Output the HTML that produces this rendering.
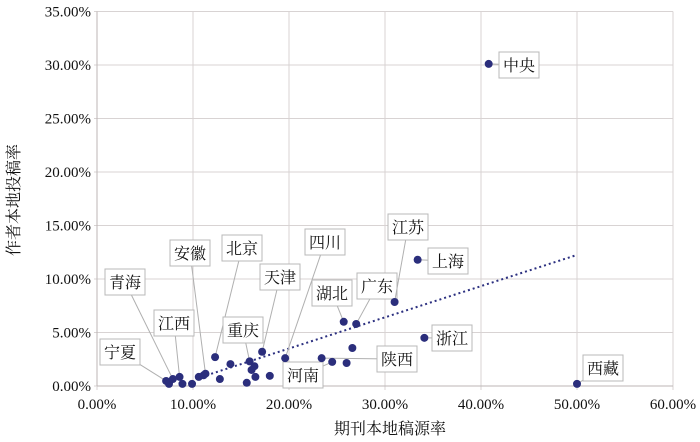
<!DOCTYPE html>
<html><head><meta charset="utf-8">
<style>
body{margin:0;background:#fff;}
svg{display:block;font-family:"Liberation Serif","Noto Serif CJK SC",serif;}
</style></head>
<body>
<svg id="chart" width="700" height="442" viewBox="0 0 700 442" xmlns="http://www.w3.org/2000/svg">
<g id="grid"></g>
<g id="axes"></g>
<g id="trend"></g>
<g id="callouts"></g>
<g id="points"></g>
<text x="390" y="434" text-anchor="middle" font-size="16" fill="#111">期刊本地稿源率</text>
<text transform="translate(19,200) rotate(-90)" text-anchor="middle" font-size="16" fill="#111">作者本地投稿率</text>
</svg>
<script>
const xTicks=[0,10,20,30,40,50,60];
const yTicks=[0,5,10,15,20,25,30,35];
const xValues=[7.2,7.5,7.9,8.6,8.9,9.9,10.6,11.1,11.3,12.3,12.8,13.9,15.6,15.9,16.4,16.1,16.5,17.2,18.0,19.6,23.4,24.5,26.0,26.6,25.7,27.0,31.0,33.4,34.1,50.0,40.8];
const yValues=[0.47,0.2,0.65,0.85,0.2,0.2,0.85,1.0,1.15,2.7,0.65,2.05,0.3,2.3,1.85,1.5,0.85,3.2,0.95,2.6,2.6,2.25,2.15,3.55,6.0,5.8,7.85,11.8,4.5,0.2,30.1];
const labelIdx=[0,2,3,8,9,13,17,19,20,21,24,25,26,27,28,29,30];
const labelText=["宁夏","青海","江西","安徽","北京","重庆","天津","四川","陕西","河南","湖北","广东","江苏","上海","浙江","西藏","中央"];
const trendX=[10.9,50];
const trendY=[0.85,12.25];
// label box centers (layout)
const boxPos=[[120,352],[125,282],[174,323],[190,253],[242,248],[243,330],[280,277],[325,242],[397,359],[303,375],[332,293],[377,286],[408,227],[448,261],[452,338],[603,368],[519,65]];

const X=v=>97+v*9.6, Y=v=>386-v*10.7;
const NS="http://www.w3.org/2000/svg";
function mk(p,t,a){const e=document.createElementNS(NS,t);for(const k in a)e.setAttribute(k,a[k]);p.appendChild(e);return e;}
const grid=document.getElementById('grid'),axes=document.getElementById('axes');
yTicks.forEach(t=>{
 const l=mk(grid,'line',{x1:94,x2:X(60),y1:Y(t),y2:Y(t),stroke:'#d8d3d3','stroke-width':1});
 
 const tx=mk(axes,'text',{x:91,y:Y(t)+5,'text-anchor':'end','font-size':15,fill:'#111'});
 tx.textContent=t.toFixed(2)+'%';
 
});
xTicks.forEach(t=>{
 const l=mk(grid,'line',{x1:X(t),x2:X(t),y1:Y(35),y2:Y(0)+4,stroke:'#d8d3d3','stroke-width':1});
 
 const tx=mk(axes,'text',{x:X(t),y:409,'text-anchor':'middle','font-size':15,fill:'#111'});
 tx.textContent=t.toFixed(2)+'%';
 
});
mk(axes,'line',{x1:97,x2:97,y1:Y(35),y2:Y(0),stroke:'#bdb6b6'});
mk(axes,'line',{x1:97,x2:X(60),y1:Y(0),y2:Y(0),stroke:'#bdb6b6'});
const tl=mk(document.getElementById('trend'),'line',{x1:X(trendX[0]),y1:Y(trendY[0]),x2:X(trendX[1]),y2:Y(trendY[1]),stroke:'#2c3080','stroke-width':2,'stroke-dasharray':'2,3'});

const co=document.getElementById('callouts');
labelIdx.forEach((i,k)=>{
 const [cx,cy]=boxPos[k];const px=X(xValues[i]),py=Y(yValues[i]);
 const w=40,h=26;
 const ln=mk(co,'line',{x1:px,y1:py,x2:cx,y2:cy,stroke:'#b0b0b0','stroke-width':1});
 
 const r=mk(co,'rect',{x:cx-w/2,y:cy-h/2,width:w,height:h,fill:'#fff',stroke:'#b8b8b8','stroke-width':1});
 
 const t=mk(co,'text',{x:cx,y:cy+6,'text-anchor':'middle','font-size':16,fill:'#111'});
 t.textContent=labelText[k];
 
});
const pts=document.getElementById('points');
xValues.forEach((v,i)=>{
 const c=mk(pts,'circle',{cx:X(v),cy:Y(yValues[i]),r:4,fill:'#2b2e7c'});
 
});
</script>
</body></html>
